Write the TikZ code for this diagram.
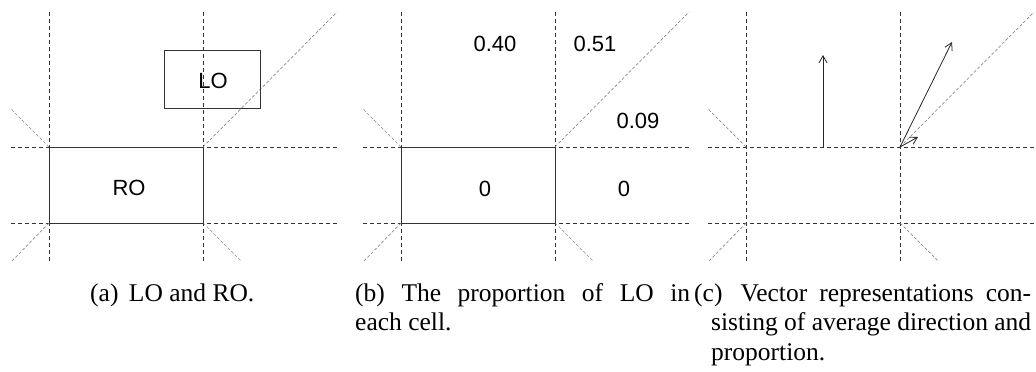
\documentclass[tikz,border=0pt]{standalone}
\usepackage{fontspec}
\setmainfont{Liberation Serif}
\newfontfamily\labelfont{Liberation Sans}
\usetikzlibrary{arrows.meta}
\begin{document}
\begin{tikzpicture}[x=1pt,y=-1pt,
  gridline/.style={draw=black!80,line width=0.85pt,dash pattern=on 4pt off 3pt},
  diagline/.style={draw=black!45,line width=0.7pt,dash pattern=on 3pt off 2pt},
  objbox/.style={draw=black!80,line width=0.9pt},
  vec/.style={draw=black!85,line width=0.8pt,-{Straight Barb[length=7pt,width=8pt]}},
  lbl/.style={font=\labelfont\fontsize{22}{26}\selectfont,inner sep=0pt},
  captext/.style={font=\fontsize{25.5}{28}\selectfont,inner sep=0pt,anchor=base west}]
\useasboundingbox (0,0) rectangle (1036,372);
\foreach \dx/\p in {0/a,352/b,697/c} {
  \begin{scope}[xshift=\dx pt]
    \coordinate (\p-tl) at (49,147);
    \coordinate (\p-tr) at (203,147);
    \coordinate (\p-bl) at (49,223);
    \coordinate (\p-br) at (203,223);
    \coordinate (\p-v1t) at (49,12);
    \coordinate (\p-v1b) at (49,262);
    \coordinate (\p-v2t) at (203,12);
    \coordinate (\p-v2b) at (203,262);
    \coordinate (\p-h1l) at (11,147);
    \coordinate (\p-h1r) at (338,147);
    \coordinate (\p-h2l) at (11,223);
    \coordinate (\p-h2r) at (338,223);
    \coordinate (\p-dtl) at (11,109);
    \coordinate (\p-dtr) at (337,12);
    \coordinate (\p-dbl) at (12,261);
    \coordinate (\p-dbr) at (241,261);
    \draw[gridline] (\p-v1t) -- (\p-v1b);
    \draw[gridline] (\p-v2t) -- (\p-v2b);
    \draw[gridline] (\p-h1l) -- (\p-h1r);
    \draw[gridline] (\p-h2l) -- (\p-h2r);
    \draw[diagline] (\p-tl) -- (\p-dtl);
    \draw[diagline] (\p-tr) -- (\p-dtr);
    \draw[diagline] (\p-bl) -- (\p-dbl);
    \draw[diagline] (\p-br) -- (\p-dbr);
  \end{scope}
}
% panel (a)
\draw[objbox] (a-tl) rectangle (a-br);
\node[lbl] (ro) at (129,188) {RO};
\node[objbox,minimum width=96pt,minimum height=57.6pt,inner sep=0pt] (lobox) at (212.3,79.5) {};
\node[lbl] (lo) at (213,81) {LO};
% panel (b)
\draw[objbox] (b-tl) rectangle (b-br);
\node[lbl] (p40) at (495,44) {0.40};
\node[lbl] (p51) at (595,44) {0.51};
\node[lbl] (p09) at (638,121) {0.09};
\node[lbl] (p0a) at (485,189) {0};
\node[lbl] (p0b) at (624,189) {0};
% panel (c)
\coordinate (v1s) at (823,147);
\coordinate (v1e) at (823,55);
\coordinate (v2e) at (952,42);
\coordinate (v3e) at (918,137);
\draw[vec] (v1s) -- (v1e);
\draw[vec] (c-tr) -- (v2e);
\draw[vec] (c-tr) -- (v3e);
% captions
\node[captext] (capa) at (90,301) {(a)\hspace{10.5pt}LO and RO.};
\node[captext] (capb1) at (355,301) {\makebox[335pt][s]{(b) The proportion of LO in}};
\node[captext] (capb2) at (355,330.5) {each cell.};
\node[captext] (capc1) at (694,301) {\makebox[337pt][s]{(c)\hspace{6pt} Vector representations con-}};
\node[captext] (capc2) at (711,330.5) {\makebox[320pt][s]{sisting of average direction and}};
\node[captext] (capc3) at (711,360) {proportion.};
\end{tikzpicture}
\end{document}
